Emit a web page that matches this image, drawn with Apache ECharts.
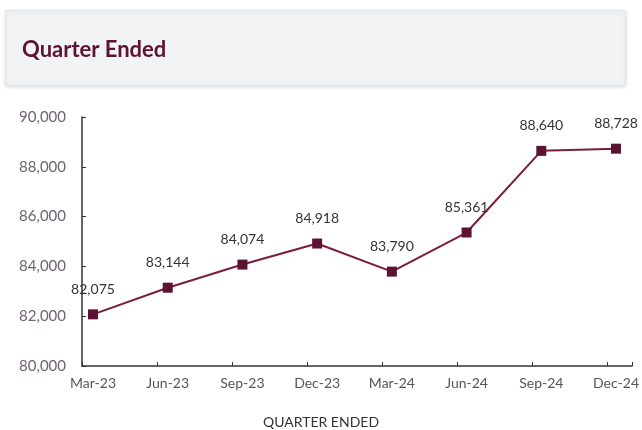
<!DOCTYPE html>
<html>
<head>
<meta charset="utf-8">
<script src="https://cdn.jsdelivr.net/npm/echarts@6/dist/echarts.min.js"></script>
<style>html,body{margin:0;padding:0;background:#fff}#c{width:642px;height:430px}</style>
</head>
<body>
<div id="c"></div>
<script>
var categories = ['Mar-23','Jun-23','Sep-23','Dec-23','Mar-24','Jun-24','Sep-24','Dec-24'];
var values = [82075, 83144, 84074, 84918, 83790, 85361, 88640, 88728];
var yTicks = [80000, 82000, 84000, 86000, 88000, 90000];
var titleText = 'Quarter Ended';
var xName = 'QUARTER ENDED';

var chart = echarts.init(document.getElementById('c'));
var fmt = function (v) { return v.toLocaleString('en-US'); };
var font = 'Lato, "Open Sans", sans-serif';
chart.setOption({
  animation: false,
  graphic: [{
    type: 'rect', left: 5, top: 10, z: -1,
    shape: { width: 620, height: 75 },
    style: { fill: '#f1f3f4', stroke: '#e2e5e7', lineWidth: 1, shadowBlur: 4, shadowColor: 'rgba(0,0,0,0.12)', shadowOffsetY: 1 }
  }],
  title: [{
    text: titleText, left: 22, top: 39, padding: 0,
    textStyle: { fontFamily: font, fontSize: 22, fontWeight: 'bold', color: '#5e1235' }
  }, {
    text: xName, left: 'center', top: 415, padding: 0,
    textStyle: { fontFamily: font, fontSize: 14, fontWeight: 'normal', color: '#333' }
  }],
  grid: [
    { left: 93, right: 24, top: 117, bottom: 64 },
    { left: 82, right: 10, top: 117, bottom: 64 }
  ],
  xAxis: [{
    type: 'category', gridIndex: 0, data: categories, boundaryGap: false,
    axisLine: { show: false }, axisTick: { show: false },
    axisLabel: { color: '#555', fontFamily: font, fontSize: 14, margin: 10 }
  }, {
    type: 'value', gridIndex: 1, min: 0, max: 7.33, interval: 1,
    axisLine: { show: true, lineStyle: { color: '#333', width: 1.5 } },
    axisTick: { show: true, inside: true, length: 4, lineStyle: { color: '#333' } },
    axisLabel: { show: false }, splitLine: { show: false }
  }],
  yAxis: [{
    type: 'value', gridIndex: 0, min: 80000, max: 90000, interval: 2000, show: false
  }, {
    type: 'value', gridIndex: 1, min: yTicks[0], max: yTicks[yTicks.length - 1], interval: 2000,
    axisLine: { show: true, lineStyle: { color: '#333', width: 1.5 } },
    axisTick: { show: true, inside: true, length: 4, lineStyle: { color: '#333' } },
    axisLabel: { color: '#6d6470', fontFamily: font, fontSize: 15, margin: 16, formatter: fmt },
    splitLine: { show: false }
  }],
  series: [{
    type: 'line', xAxisIndex: 0, yAxisIndex: 0, data: values,
    symbol: 'rect', symbolSize: 10,
    lineStyle: { color: '#7a1c40', width: 2 },
    itemStyle: { color: '#5c1232' },
    label: { show: true, position: 'top', distance: 13, color: '#333', fontFamily: font, fontSize: 14, formatter: function (p) { return fmt(p.value); } }
  }]
});
</script>
</body>
</html>
